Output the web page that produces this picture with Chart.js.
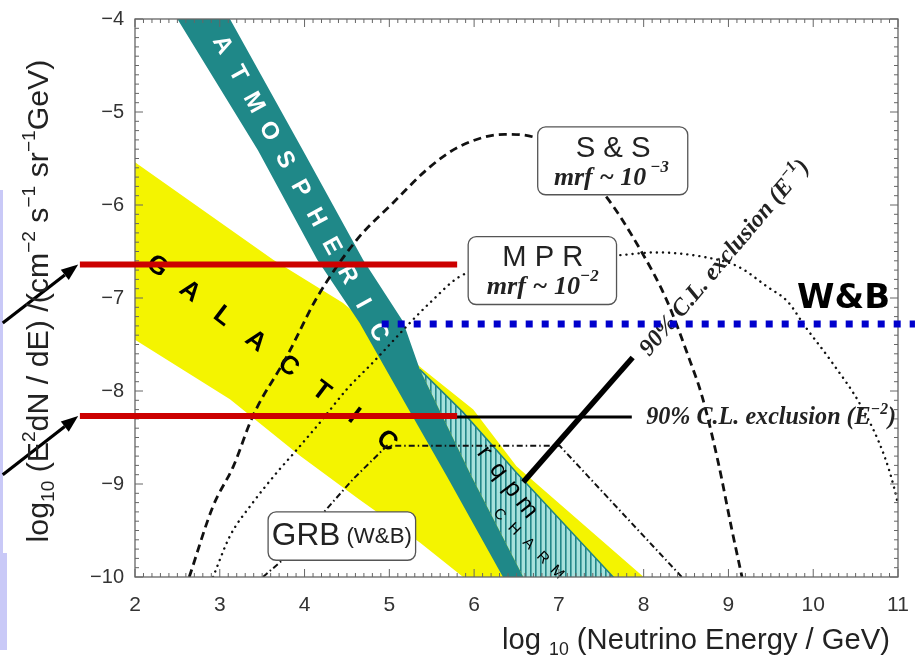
<!DOCTYPE html>
<html>
<head>
<meta charset="utf-8">
<title>Diffuse neutrino flux: models and limits</title>
<script src="https://cdn.jsdelivr.net/npm/chart.js@4.4.1/dist/chart.umd.min.js"></script>
<style>
  html, body { margin: 0; padding: 0; background: #fff; overflow: hidden; }
  canvas { display: block; }
</style>
</head>
<body>
<canvas id="fluxChart" width="915" height="659"></canvas>
<script>
/* ===== log10 E^2 dN/dE vs log10 E — flux models and limits ===== */

// ── ticks ───────────────────────────────────────────────────────────────
const energyTicks = [2, 3, 4, 5, 6, 7, 8, 9, 10, 11];
const fluxTicks = [-10, -9, -8, -7, -6, -5, -4];

// ── bands: [log10 E, log10 flux] edge points ───────────────────────────
const galacticTop = [[2.0, -5.54], [3.63, -6.59], [4.45, -7.05], [5.40, -7.77], [5.99, -8.20], [6.50, -8.81], [8.0, -10.0], [8.3, -10.3]];
const galacticBottom = [[2.0, -7.45], [3.12, -8.09], [3.95, -8.70], [4.65, -9.17], [5.36, -9.63], [5.87, -10.0], [8.3, -11.9]];
const charmTop = [[5.36, -7.77], [5.87, -8.23], [6.50, -8.88], [7.64, -10.0], [7.9, -10.3]];
const charmBottom = [[5.36, -7.77], [5.97, -8.92], [6.58, -10.0], [7.9, -12.3]];
const atmosTop = [[2.4, -2.82], [3.12, -4.0], [3.98, -5.41], [4.69, -6.59], [5.16, -7.25], [5.36, -7.77], [5.97, -8.92], [6.58, -10.0], [6.8, -10.39]];
const atmosBottom = [[2.4, -3.85], [2.50, -4.0], [3.45, -5.41], [4.15, -6.59], [4.65, -7.27], [5.21, -8.17], [5.68, -8.92], [6.34, -10.0], [6.8, -10.75]];

// ── model curves ───────────────────────────────────────────────────────
const ssFlux = [[2.64, -10.0], [2.92, -9.24], [3.16, -8.81], [3.39, -8.27], [3.79, -7.63], [4.15, -6.99], [4.62, -6.37], [5.04, -5.98], [5.48, -5.59], [5.83, -5.37], [6.36, -5.24], [6.74, -5.28], [7.10, -5.50], [7.54, -5.89], [7.96, -6.48], [8.27, -7.02], [8.54, -7.66], [8.69, -8.06], [8.88, -8.77], [9.04, -9.49], [9.16, -10.0]];
const mprFlux = [[2.92, -10.0], [3.12, -9.56], [3.39, -9.20], [3.67, -8.88], [3.91, -8.63], [4.18, -8.34], [4.50, -7.98], [4.81, -7.69], [5.24, -7.27], [5.48, -7.05], [5.83, -6.77], [6.40, -6.62], [7.00, -6.56], [7.70, -6.54], [8.13, -6.51], [8.72, -6.56], [9.11, -6.66], [9.46, -6.88], [9.70, -7.04], [9.90, -7.30], [10.22, -7.69], [10.57, -8.17], [10.84, -8.70], [10.96, -9.06], [11.0, -9.22]];
const grbFlux = [[3.51, -10.0], [3.75, -9.81], [4.26, -9.27], [4.57, -8.95], [4.97, -8.59], [7.01, -8.59], [7.99, -9.55], [8.45, -10.0]];

// ── limits & overlay marks ─────────────────────────────────────────────
const limitE2 = [[5.33, -8.28], [7.86, -8.28]];
const limitE1 = [[6.58, -8.98], [7.87, -7.64]];
const markerLevels = [-6.64, -8.27];
const markerSpan = [1.35, 5.80];
const wbLevel = -7.28;
const wbSpan = [4.91, 11.2];

const SANS = '"Liberation Sans", Arial, sans-serif';
const SERIF = '"Liberation Serif", "Times New Roman", serif';

const pts = arr => arr.map(([x, y]) => ({ x, y }));
const at = (chart, x, y) => [chart.scales.x.getPixelForValue(x), chart.scales.y.getPixelForValue(y)];

function fontFor(r, o, k) {
    return (o.style || '') + ' ' + (o.weight || '') + ' ' + (r[1] * k).toFixed(2) + 'px ' + o.family;
}
function measureRuns(ctx, runs, o, k) {
    let w = 0;
    runs.forEach(r => { ctx.font = fontFor(r, o, k); w += ctx.measureText(r[0]).width; });
    return w;
}
// runs = [text, size, dy]; o.fit stretches the whole line to that length
function drawRuns(ctx, runs, x, y, o) {
    const k = o.fit ? o.fit / measureRuns(ctx, runs, o, 1) : 1;
    const w = measureRuns(ctx, runs, o, k);
    ctx.save();
    ctx.translate(x, y);
    ctx.rotate(o.angle || 0);
    ctx.fillStyle = o.color || '#111';
    ctx.textBaseline = 'middle';
    ctx.textAlign = 'left';
    let cx = o.align === 'center' ? -w / 2 : 0;
    runs.forEach(r => {
        ctx.font = fontFor(r, o, k);
        ctx.fillText(r[0], cx, (r[2] || 0) * k);
        cx += ctx.measureText(r[0]).width;
    });
    ctx.restore();
}
// letters evenly spread from a to b, turned along the line
function spaced(ctx, text, a, b, font, color) {
    const n = text.length;
    const ang = Math.atan2(b[1] - a[1], b[0] - a[0]);
    ctx.save();
    ctx.font = font;
    ctx.fillStyle = color;
    ctx.textAlign = 'center';
    ctx.textBaseline = 'middle';
    for (let i = 0; i < n; i++) {
        const t = i / (n - 1);
        ctx.save();
        ctx.translate(a[0] + (b[0] - a[0]) * t, a[1] + (b[1] - a[1]) * t);
        ctx.rotate(ang);
        ctx.fillText(text[i], 0, 0);
        ctx.restore();
    }
    ctx.restore();
}
function roundBox(ctx, p1, p2, r) {
    const x = p1[0], y = p1[1], w = p2[0] - p1[0], h = p2[1] - p1[1];
    ctx.save();
    ctx.beginPath();
    ctx.moveTo(x + r, y);
    ctx.arcTo(x + w, y, x + w, y + h, r);
    ctx.arcTo(x + w, y + h, x, y + h, r);
    ctx.arcTo(x, y + h, x, y, r);
    ctx.arcTo(x, y, x + w, y, r);
    ctx.closePath();
    ctx.fillStyle = '#fff';
    ctx.fill();
    ctx.strokeStyle = '#555';
    ctx.lineWidth = 1.3;
    ctx.stroke();
    ctx.restore();
}
function arrow(ctx, from, to) {
    const ang = Math.atan2(to[1] - from[1], to[0] - from[0]);
    const head = 17, half = 6.5;
    const bx = to[0] - head * Math.cos(ang), by = to[1] - head * Math.sin(ang);
    ctx.save();
    ctx.strokeStyle = '#000';
    ctx.lineWidth = 3.2;
    ctx.beginPath();
    ctx.moveTo(from[0], from[1]);
    ctx.lineTo(bx, by);
    ctx.stroke();
    ctx.fillStyle = '#000';
    ctx.beginPath();
    ctx.moveTo(to[0], to[1]);
    ctx.lineTo(bx - half * Math.sin(ang), by + half * Math.cos(ang));
    ctx.lineTo(bx + half * Math.sin(ang), by - half * Math.cos(ang));
    ctx.closePath();
    ctx.fill();
    ctx.restore();
}
function drawFrame(chart) {
    const { ctx, chartArea: a, scales: { x, y } } = chart;
    ctx.save();
    ctx.strokeStyle = '#666';
    ctx.lineWidth = 1.3;
    ctx.strokeRect(a.left, a.top, a.right - a.left, a.bottom - a.top);
    ctx.beginPath();
    for (let i = 20; i <= 110; i++) {
        const px = x.getPixelForValue(i / 10), len = i % 10 ? 4 : 8;
        ctx.moveTo(px, a.bottom); ctx.lineTo(px, a.bottom - len);
        ctx.moveTo(px, a.top); ctx.lineTo(px, a.top + len);
    }
    for (let i = -100; i <= -40; i++) {
        const py = y.getPixelForValue(i / 10), len = i % 10 ? 4 : 8;
        ctx.moveTo(a.left, py); ctx.lineTo(a.left + len, py);
        ctx.moveTo(a.right, py); ctx.lineTo(a.right - len, py);
    }
    ctx.lineWidth = 1;
    ctx.stroke();
    ctx.restore();
}

function hatch(ctx) {
    const c = document.createElement('canvas');
    c.width = 5; c.height = 5;
    const g = c.getContext('2d');
    g.fillStyle = '#a6e1dc';
    g.fillRect(0, 0, 5, 5);
    g.fillStyle = '#238789';
    g.fillRect(0, 0, 1.6, 5);
    return ctx.createPattern(c, 'repeat');
}

const overlay = {
    id: 'overlay',
    beforeDraw(chart) {
        const ctx = chart.ctx;
        ctx.save();
        ctx.fillStyle = '#fff';
        ctx.fillRect(0, 0, chart.width, chart.height);
        ctx.fillStyle = '#c9c9f7';
        ctx.fillRect(0, 190, 3, 363);
        ctx.fillRect(0, 553, 7, 97);
        ctx.restore();
    },
    afterDatasetDraw(chart, args) {
        const ctx = chart.ctx;
        if (args.index === 5) {
            // band names
            spaced(ctx, 'ATMOSPHERIC', at(chart, 3.03, -4.28), at(chart, 4.87, -7.37), 'bold 24px ' + SANS, '#fff');
            spaced(ctx, 'GALACTIC', at(chart, 2.26, -6.66), at(chart, 4.97, -8.54), 'bold 26px ' + SANS, '#000');
            spaced(ctx, 'rqpm', at(chart, 6.12, -8.66), at(chart, 6.62, -9.25), '25px ' + SANS, '#000');
            spaced(ctx, 'CHARM', at(chart, 6.30, -9.33), at(chart, 6.98, -9.95), '15px ' + SANS, '#000');
        }
        if (args.index === 10) {
            drawFrame(chart);
            // model boxes
            roundBox(ctx, at(chart, 6.75, -5.16), at(chart, 8.52, -5.89), 8);
            drawRuns(ctx, [['S & S', 25]], ...at(chart, 7.64, -5.40), { family: SANS, align: 'center', fit: 75, color: '#222' });
            drawRuns(ctx, [['mrf ~ 10', 20], [' \u22123', 13, -8]], ...at(chart, 7.62, -5.71), { family: SERIF, style: 'italic', weight: 'bold', align: 'center', fit: 115, color: '#222' });

            roundBox(ctx, at(chart, 5.93, -6.34), at(chart, 7.68, -7.07), 8);
            drawRuns(ctx, [['M P R', 25]], ...at(chart, 6.81, -6.57), { family: SANS, align: 'center', fit: 81, color: '#222' });
            drawRuns(ctx, [['mrf ~ 10', 20], ['\u22122', 13, -8]], ...at(chart, 6.81, -6.88), { family: SERIF, style: 'italic', weight: 'bold', align: 'center', fit: 112, color: '#222' });

            roundBox(ctx, at(chart, 3.57, -9.30), at(chart, 5.31, -9.82), 8);
            drawRuns(ctx, [['GRB', 27], [' (W&B)', 19, 1]], ...at(chart, 4.44, -9.56), { family: SANS, align: 'center', fit: 140, color: '#222' });

            // limit labels
            drawRuns(ctx, [['90% C.L. exclusion (E', 20], ['\u22122', 13, -7], [')', 20]], ...at(chart, 8.03, -8.29), { family: SERIF, style: 'italic', weight: 'bold', fit: 250, color: '#222' });
            const s = at(chart, 8.01, -7.59), e = at(chart, 9.91, -5.55);
            drawRuns(ctx, [['90% C.L. exclusion (E', 20], ['\u22121', 13, -7], [')', 20]], s[0], s[1], {
                family: SERIF, style: 'italic', weight: 'bold', color: '#222',
                angle: Math.atan2(e[1] - s[1], e[0] - s[0]), fit: Math.hypot(e[0] - s[0], e[1] - s[1])
            });
        }
    },
    afterDraw(chart) {
        const ctx = chart.ctx;
        drawRuns(ctx, [['W&B', 34]], ...at(chart, 9.81, -7.01), { family: '"DejaVu Sans", sans-serif', weight: 'bold', fit: 93, color: '#000' });
        arrow(ctx, at(chart, 0.44, -7.27), at(chart, 1.33, -6.64));
        arrow(ctx, at(chart, 0.44, -8.90), at(chart, 1.33, -8.27));

        // axis titles
        drawRuns(ctx, [['log', 27], ['10', 17, 8], [' (E', 27], ['2', 17, -9], ['dN / dE) /(cm', 27], ['\u22122', 17, -9], [' s', 27], ['\u22121', 17, -9], [' sr', 27], ['\u22121', 17, -9], ['GeV)', 27]],
            40, 301, { family: SANS, align: 'center', angle: -Math.PI / 2, fit: 483, color: '#222' });
        drawRuns(ctx, [['log ', 28], ['10', 17, 9], [' (Neutrino Energy / GeV)', 28]],
            502, 641, { family: SANS, fit: 388, color: '#222' });
    }
};

const canvas = document.getElementById('fluxChart');
const base = { pointRadius: 0, borderWidth: 0, tension: 0, fill: false };

new Chart(canvas, {
    type: 'line',
    data: {
        datasets: [
            { ...base, label: 'Galactic', data: pts(galacticTop), fill: 1, backgroundColor: '#f4f400', order: 20 },
            { ...base, data: pts(galacticBottom), order: 19 },
            { ...base, label: 'Charm', data: pts(charmTop), fill: 3, backgroundColor: hatch(canvas.getContext('2d')), borderColor: '#1f8585', borderWidth: 1.5, order: 18 },
            { ...base, data: pts(charmBottom), order: 17 },
            { ...base, label: 'Atmospheric', data: pts(atmosTop), fill: 5, backgroundColor: '#1f8888', order: 16 },
            { ...base, data: pts(atmosBottom), order: 15 },
            { ...base, label: 'S & S', data: pts(ssFlux), borderColor: '#111', borderWidth: 2.8, borderDash: [8, 5], cubicInterpolationMode: 'monotone', order: 14 },
            { ...base, label: 'MPR', data: pts(mprFlux), borderColor: '#111', borderWidth: 2.4, borderDash: [0.1, 6], borderCapStyle: 'round', cubicInterpolationMode: 'monotone', order: 13 },
            { ...base, label: 'GRB (W&B)', data: pts(grbFlux), borderColor: '#111', borderWidth: 2, borderDash: [6, 3, 1.5, 3], order: 12 },
            { ...base, label: '90% C.L. (E-2)', data: pts(limitE2), borderColor: '#000', borderWidth: 3, order: 11 },
            { ...base, label: '90% C.L. (E-1)', data: pts(limitE1), borderColor: '#000', borderWidth: 5.5, order: 10 },
            { ...base, data: markerSpan.map(x => ({ x, y: markerLevels[0] })), borderColor: '#cc0000', borderWidth: 6, clip: false, order: 3 },
            { ...base, data: markerSpan.map(x => ({ x, y: markerLevels[1] })), borderColor: '#cc0000', borderWidth: 6, clip: false, order: 2 },
            { ...base, data: wbSpan.map(x => ({ x, y: wbLevel })), borderColor: '#0000cc', borderWidth: 7, borderDash: [7, 9], clip: false, order: 1 }
        ]
    },
    options: {
        responsive: false,
        devicePixelRatio: 1,
        animation: false,
        events: [],
        layout: { padding: { top: 19, right: 17, left: 0, bottom: 0 } },
        plugins: { legend: { display: false }, tooltip: { enabled: false } },
        scales: {
            x: {
                type: 'linear', min: 2, max: 11,
                afterBuildTicks: s => { s.ticks = energyTicks.map(v => ({ value: v })); },
                afterFit: s => { s.height = 82; s.paddingLeft = 0; s.paddingRight = 0; },
                grid: { display: false, drawTicks: false },
                border: { display: false },
                ticks: { padding: 16, color: '#333', font: { family: SANS, size: 21 } }
            },
            y: {
                type: 'linear', min: -10, max: -4,
                afterBuildTicks: s => { s.ticks = fluxTicks.map(v => ({ value: v })); },
                afterFit: s => { s.width = 135; s.paddingTop = 0; s.paddingBottom = 0; },
                grid: { display: false, drawTicks: false },
                border: { display: false },
                ticks: { padding: 11, color: '#333', font: { family: SANS, size: 20 }, callback: v => (v < 0 ? '\u2212' + Math.abs(v) : String(v)) }
            }
        }
    },
    plugins: [overlay]
});
</script>
</body>
</html>
